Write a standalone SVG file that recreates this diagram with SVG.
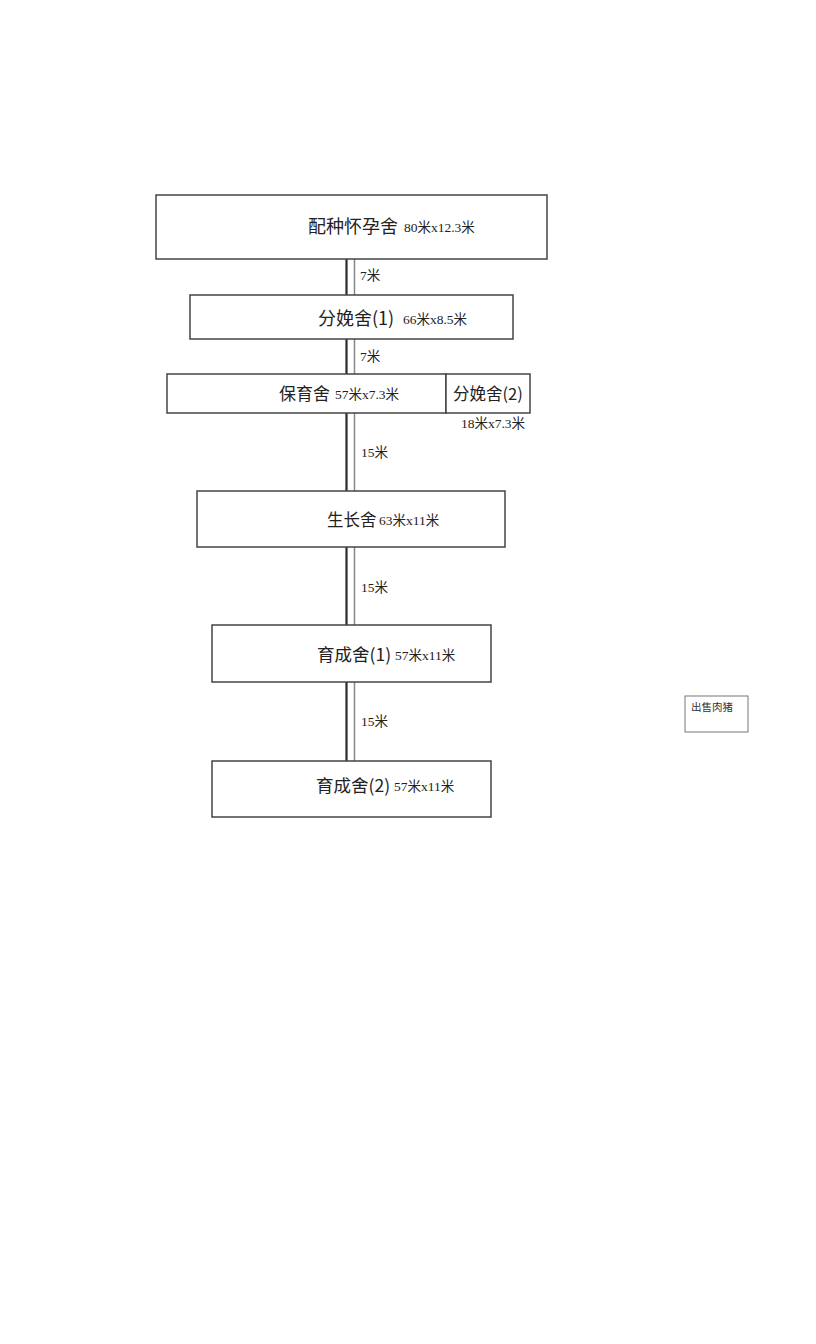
<svg xmlns="http://www.w3.org/2000/svg" width="816" height="1344" viewBox="0 0 816 1344">
<style>
.box{fill:#fff;stroke:#444;stroke-width:1.5}
.dk{stroke:#2a2a2a;stroke-width:2.2}
.lt{stroke:#888;stroke-width:1.5}
.big{font-family:"Noto Sans CJK SC",sans-serif;font-size:18px;fill:#222}
.sm{font-family:"Liberation Serif","Noto Sans CJK SC",serif;font-size:13.5px;fill:#222}
.tiny{font-family:"Noto Sans CJK SC",sans-serif;font-size:10.5px;fill:#333}
</style>
<rect width="816" height="1344" fill="#fff"/>
<g id="connectors">
<line class="dk" x1="346.5" y1="259" x2="346.5" y2="295"/>
<line class="lt" x1="354.5" y1="259" x2="354.5" y2="295"/>
<line class="dk" x1="346.5" y1="339" x2="346.5" y2="374"/>
<line class="lt" x1="354.5" y1="339" x2="354.5" y2="374"/>
<line class="dk" x1="346.5" y1="413" x2="346.5" y2="491"/>
<line class="lt" x1="354.5" y1="413" x2="354.5" y2="491"/>
<line class="dk" x1="346.5" y1="547" x2="346.5" y2="625"/>
<line class="lt" x1="354.5" y1="547" x2="354.5" y2="625"/>
<line class="dk" x1="346.5" y1="682" x2="346.5" y2="761"/>
<line class="lt" x1="354.5" y1="682" x2="354.5" y2="761"/>
<text class="sm" x="360" y="280">7米</text>
<text class="sm" x="360" y="361">7米</text>
<text class="sm" x="361" y="457">15米</text>
<text class="sm" x="361" y="592">15米</text>
<text class="sm" x="361" y="726">15米</text>
</g>
<g id="n1">
<rect class="box" x="156" y="195" width="391" height="64"/>
<text class="big" x="308" y="233">配种怀孕舍</text>
<text class="sm" x="404" y="232">80米x12.3米</text>
</g>
<g id="n2">
<rect class="box" x="190" y="295" width="323" height="44"/>
<text class="big" x="318" y="325">分娩舍(1)</text>
<text class="sm" x="403" y="324">66米x8.5米</text>
</g>
<g id="n3">
<rect class="box" x="167" y="374" width="279" height="39"/>
<text class="big" x="279" y="400" style="font-size:17px">保育舍</text>
<text class="sm" x="335" y="399">57米x7.3米</text>
</g>
<g id="n4">
<rect class="box" x="446" y="374" width="84" height="39"/>
<text class="big" x="453" y="400" style="font-size:16.5px">分娩舍(2)</text>
<text class="sm" x="461" y="428">18米x7.3米</text>
</g>
<g id="n5">
<rect class="box" x="197" y="491" width="308" height="56"/>
<text class="big" x="327" y="526" style="font-size:16.5px">生长舍</text>
<text class="sm" x="379" y="525">63米x11米</text>
</g>
<g id="n6">
<rect class="box" x="212" y="625" width="279" height="57"/>
<text class="big" x="317" y="661" style="font-size:17.5px">育成舍(1)</text>
<text class="sm" x="395" y="660">57米x11米</text>
</g>
<g id="n7">
<rect class="box" x="212" y="761" width="279" height="56"/>
<text class="big" x="316" y="792" style="font-size:17.5px">育成舍(2)</text>
<text class="sm" x="394" y="791">57米x11米</text>
</g>
<g id="n8">
<rect x="685" y="696" width="63" height="36" fill="#fff" stroke="#777" stroke-width="1"/>
<text class="tiny" x="691" y="711">出售肉猪</text>
</g>
</svg>
